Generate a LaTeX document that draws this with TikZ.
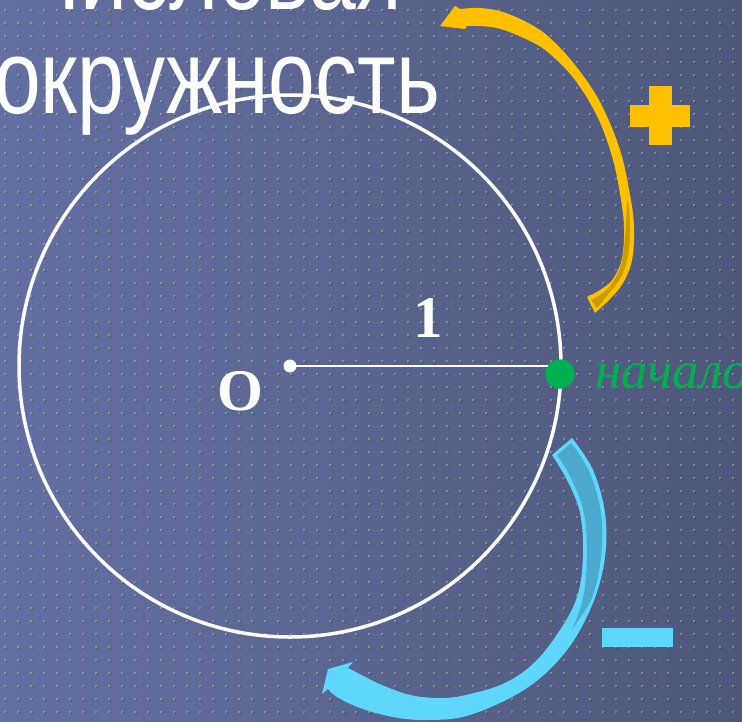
\documentclass[tikz,border=0pt]{standalone}
\usepackage{fontspec}
\usepackage{graphicx}
\setmainfont{Liberation Serif}
\newfontfamily\titlefont{Liberation Sans}
\definecolor{bgL}{RGB}{100,112,162}
\definecolor{bgR}{RGB}{78,88,122}
\definecolor{yel}{RGB}{255,192,0}
\definecolor{yeldark}{RGB}{200,155,0}
\definecolor{lblue}{RGB}{95,214,252}
\definecolor{dblue}{RGB}{75,170,205}
\definecolor{grn}{RGB}{0,176,80}
\tikzset{
  titletext/.style={text=white,inner sep=0pt,anchor=base west,font=\titlefont\fontsize{84}{84}\selectfont},
  numtext/.style={text=white,inner sep=0pt,anchor=base,font=\bfseries\fontsize{59}{59}\selectfont},
  starttext/.style={text=grn,inner sep=0pt,anchor=base west,font=\itshape\fontsize{53}{53}\selectfont},
  dotnode/.style={circle,inner sep=0pt,minimum size=#1},
}
\begin{document}
\begin{tikzpicture}[x=1pt,y=-1pt]
\useasboundingbox (0,0) rectangle (742,721);
\clip (0,0) rectangle (742,721);
% background
\shade[left color=bgL,right color=bgR] (0,0) rectangle (742,721);
\fill[black,opacity=0.18] foreach \i in {0,...,57} { foreach \j in {0,...,55} {(5+13*\i,10+13*\j) rectangle ++(2.2,2.2)} };
\fill[white,opacity=0.28] foreach \i in {0,...,57} { foreach \j in {0,...,55} {(4+13*\i,9+13*\j) rectangle ++(2.2,2.2)} };
% title
\node[titletext] (t1) at (24,9) {\scalebox{1}[1.25]{Числовая}};
\node[titletext] (t2) at (-6,113) {\scalebox{1}[1.25]{окружность}};
% circle
\coordinate (O) at (290,366);
\draw[white,line width=3.5pt] (O) circle[radius=271];
\node[dotnode=13pt,fill=white] (cdot) at (O) {};
\node[dotnode=29pt,fill=grn] (start) at (560,374) {};
\draw[white,line width=2pt] (cdot.center) -- (start.center |- cdot.center);
\node[dotnode=29pt,fill=grn] at (start) {};
\node[numtext] (one) at (428,337) {1};
\node[numtext] (zero) at (240,410) {O};
\node[starttext] (nach) at (595,388) {начало};
% yellow arrow (+)
\fill[yel] plot[smooth,tension=0.6] coordinates {(595,313) (610,299) (623,283) (632,260) (634,227) (630,195) (620,150) (600,102) (575,65) (550,38) (530,24) (503,12) (480,8) (460,9)}
  -- (455,6) -- (440,26) -- (465,29)
  -- plot[smooth,tension=0.6] coordinates {(467,26) (497,28) (530,41) (550,54) (575,80) (598,118) (613,160) (621,200) (624,228) (622,258) (613,279) (600,290) (587,297)} -- cycle;
\fill[yeldark] plot[smooth,tension=0.6] coordinates {(591,300) (603,293) (613,282) (620,268) (624,248) (626,223) (627,200)}
  -- plot[smooth,tension=0.6] coordinates {(629,205) (630,232) (628,256) (621,277) (609,293) (597,308)} -- cycle;
\fill[yel] (649,86) rectangle (672,145);
\fill[yel] (630,105) rectangle (690,127);
% blue arrow (-)
\fill[lblue] plot[smooth,tension=0.6] coordinates {(572,438) (593,470) (605,513) (605,557) (593,603) (567,650) (527,688) (470,715) (427,720) (393,717) (360,708) (337,697) (328,689)}
  -- (322,694) -- (328,669) -- (353,662) -- (348,668)
  -- plot[smooth,tension=0.6] coordinates {(377,683) (410,695) (443,698) (470,694) (505,683) (535,662) (560,630) (577,597) (583,557) (580,513) (567,480) (552,455)} -- cycle;
\fill[dblue] plot[smooth,tension=0.6] coordinates {(557,455) (571,478) (584,513) (587,557) (583,598) (572,630)}
  -- plot[smooth,tension=0.6] coordinates {(580,618) (593,595) (601,557) (601,513) (589,471) (571,443)} -- cycle;
\fill[lblue] (602,628) rectangle (673,647);
\end{tikzpicture}
\end{document}
